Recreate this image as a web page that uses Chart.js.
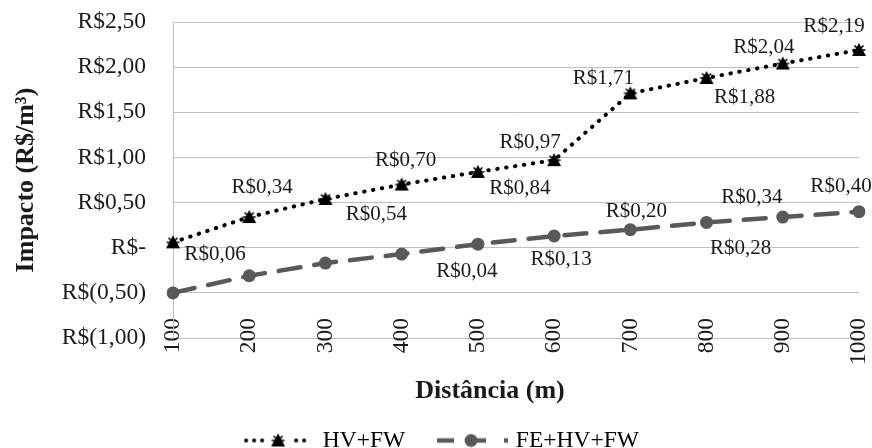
<!DOCTYPE html>
<html>
<head>
<meta charset="utf-8">
<script src="https://cdn.jsdelivr.net/npm/chart.js@4.4.1/dist/chart.umd.min.js"></script>
<style>
  html, body { margin: 0; padding: 0; background: #fff; }
</style>
</head>
<body>
<canvas id="chart" width="872" height="448"></canvas>
<script>
// data
const categories = ['100', '200', '300', '400', '500', '600', '700', '800', '900', '1000'];
const hvFw = [0.06, 0.34, 0.54, 0.70, 0.84, 0.97, 1.71, 1.88, 2.04, 2.19];
const feHvFw = [-0.50, -0.31, -0.17, -0.07, 0.04, 0.13, 0.20, 0.28, 0.34, 0.40];
const yTickLabels = ['R$(1,00)', 'R$(0,50)', 'R$-', 'R$0,50', 'R$1,00', 'R$1,50', 'R$2,00', 'R$2,50'];
const seriesNames = ['HV+FW', 'FE+HV+FW'];

// where each data label sits relative to its point (px), null = no label
const hvLabelOffsets = [[42, 12], [13, -30], [51, 15], [4, -24], [42, 17], [-24, -18], [-27, -15], [38, 19], [-19, -16], [-25, -24]];
const feLabelOffsets = [null, null, null, null, [-11, 27], [7, 23], [6, -18], [34, 26], [-31, -20], [-18, -25]];

const serif = "'Liberation Serif', 'Times New Roman', serif";
const textColor = '#1a1a1a';
const gridColor = '#bfbfbf';
const feColor = '#595959';

function money(v) {
    return 'R$' + v.toFixed(2).replace('.', ',');
}

function drawStar(g, x, y) {
    g.save();
    g.translate(x, y);
    g.fillStyle = '#000';
    g.strokeStyle = '#000';
    g.lineWidth = 1.6;
    g.beginPath();
    g.moveTo(0, -7); g.lineTo(7, 6); g.lineTo(-7, 6);
    g.closePath();
    g.fill();
    g.beginPath();
    g.moveTo(-6.5, 0); g.lineTo(6.5, 0);
    g.moveTo(-4.5, -4.5); g.lineTo(4.5, 4.5);
    g.moveTo(4.5, -4.5); g.lineTo(-4.5, 4.5);
    g.stroke();
    g.restore();
}

function makeStarMarker() {
    const c = document.createElement('canvas');
    c.width = 18; c.height = 18;
    drawStar(c.getContext('2d'), 9, 9);
    return c;
}

function makeLegendHv() {
    const c = document.createElement('canvas');
    c.width = 80; c.height = 20;
    const g = c.getContext('2d');
    g.fillStyle = '#000';
    [-32, -24, -16, 18, 26].forEach(function (dx) {
        g.beginPath();
        g.arc(40 + dx, 10, 2, 0, Math.PI * 2);
        g.fill();
    });
    drawStar(g, 40, 10);
    return c;
}

function makeLegendFe() {
    const c = document.createElement('canvas');
    c.width = 90; c.height = 20;
    const g = c.getContext('2d');
    g.fillStyle = feColor;
    g.fillRect(45 - 34, 10 - 2.25, 17, 4.5);
    g.fillRect(45, 10 - 2.25, 15, 4.5);
    g.fillRect(45 + 33, 10 - 2.25, 4, 4.5);
    g.beginPath();
    g.arc(45, 10, 6.5, 0, Math.PI * 2);
    g.fill();
    return c;
}

const legendImages = [makeLegendHv(), makeLegendFe()];

const dataLabels = {
    id: 'dataLabels',
    afterDatasetsDraw: function (chart) {
        const ctx = chart.ctx;
        const offsets = [hvLabelOffsets, feLabelOffsets];
        ctx.save();
        ctx.font = '21px ' + serif;
        ctx.fillStyle = textColor;
        ctx.textAlign = 'center';
        ctx.textBaseline = 'middle';
        chart.data.datasets.forEach(function (ds, i) {
            const meta = chart.getDatasetMeta(i);
            meta.data.forEach(function (pt, j) {
                const off = offsets[i][j];
                if (!off) return;
                ctx.fillText(money(ds.data[j]), pt.x + off[0], pt.y + off[1]);
            });
        });
        ctx.restore();
    }
};

const xTitle = {
    id: 'xTitle',
    afterDraw: function (chart) {
        const ctx = chart.ctx;
        ctx.save();
        ctx.font = 'bold 26px ' + serif;
        ctx.fillStyle = textColor;
        ctx.textAlign = 'center';
        ctx.textBaseline = 'middle';
        ctx.fillText('Distância (m)', 490, 391);
        ctx.restore();
    }
};

const starMarker = makeStarMarker();

new Chart(document.getElementById('chart'), {
    type: 'line',
    data: {
        labels: categories,
        datasets: [{
            label: seriesNames[0],
            data: hvFw,
            borderColor: '#000',
            borderWidth: 4,
            borderDash: [0.5, 8.5],
            borderCapStyle: 'round',
            pointStyle: starMarker,
            pointRadius: 7,
            tension: 0
        }, {
            label: seriesNames[1],
            data: feHvFw,
            borderColor: feColor,
            borderWidth: 4.5,
            borderDash: [22, 14],
            borderCapStyle: 'round',
            pointStyle: 'circle',
            pointRadius: 6.5,
            pointBackgroundColor: feColor,
            pointBorderWidth: 0,
            tension: 0
        }]
    },
    options: {
        responsive: false,
        animation: false,
        layout: {
            padding: { left: 25, right: 13, top: 22, bottom: -14.25 }
        },
        plugins: {
            tooltip: { enabled: false },
            legend: {
                position: 'bottom',
                labels: {
                    usePointStyle: true,
                    pointStyleWidth: 66,
                    padding: 32.8,
                    color: textColor,
                    font: { family: serif, size: 23.5 },
                    generateLabels: function (chart) {
                        return chart.data.datasets.map(function (ds, i) {
                            return {
                                text: ds.label,
                                pointStyle: legendImages[i],
                                fillStyle: ds.borderColor,
                                strokeStyle: ds.borderColor,
                                lineWidth: 0,
                                hidden: false,
                                datasetIndex: i
                            };
                        });
                    }
                }
            }
        },
        scales: {
            x: {
                offset: false,
                grid: { display: false, drawTicks: false },
                border: { display: true, color: gridColor, width: 1 },
                ticks: {
                    autoSkip: false,
                    minRotation: 90,
                    maxRotation: 90,
                    padding: -20,
                    color: textColor,
                    font: { family: serif, size: 23.5 }
                },
                afterFit: function (scale) {
                    scale.height = 57.9;
                    // labels sit across the axis line, so don't clip them to the scale box
                    scale._computeLabelArea = function () { return undefined; };
                }
            },
            y: {
                min: -1,
                max: 2.5,
                ticks: {
                    stepSize: 0.5,
                    padding: 0,
                    color: textColor,
                    font: { family: serif, size: 23.5 },
                    callback: function (value) {
                        return yTickLabels[Math.round((value + 1) / 0.5)];
                    }
                },
                grid: { color: gridColor, lineWidth: 1, drawTicks: true, tickLength: 27, tickColor: 'rgba(0,0,0,0)' },
                border: { color: gridColor, width: 1 },
                title: {
                    display: true,
                    text: 'Impacto (R$/m³)',
                    color: textColor,
                    font: { family: serif, size: 26, weight: 'bold' },
                    padding: { top: -14.6, bottom: 0 }
                },
                afterFit: function (scale) { scale.width = 148; }
            }
        }
    },
    plugins: [dataLabels, xTitle]
});
</script>
</body>
</html>
